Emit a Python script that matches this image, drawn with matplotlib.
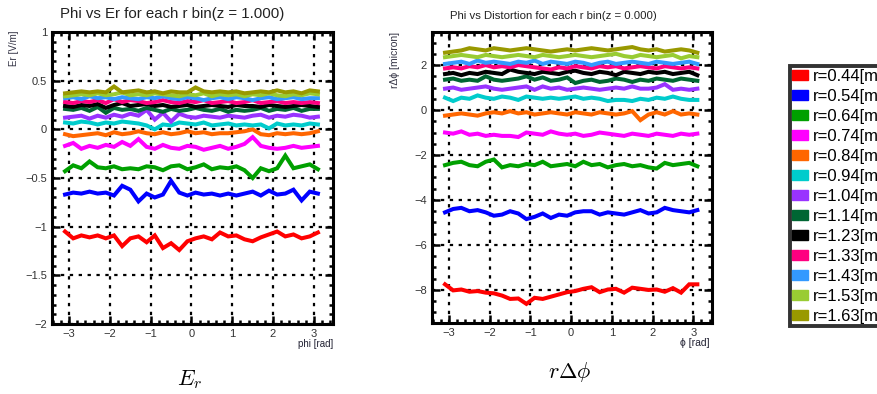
import numpy as np
import matplotlib
matplotlib.use("Agg")
import matplotlib.pyplot as plt
from matplotlib.patches import Patch
from matplotlib.ticker import MultipleLocator, FuncFormatter

plt.rcParams['font.family'] = ['Liberation Sans', 'DejaVu Sans']
plt.rcParams['mathtext.fontset'] = 'cm'

# DATA
phi = [-3.1, -2.9, -2.7, -2.5, -2.3, -2.1, -1.9, -1.7, -1.5, -1.3, -1.1, -0.9,
       -0.7, -0.5, -0.3, -0.1, 0.1, 0.3, 0.5, 0.7, 0.9, 1.1, 1.3, 1.5,
       1.7, 1.9, 2.1, 2.3, 2.5, 2.7, 2.9, 3.1]

r_labels = ['r=0.44[m]', 'r=0.54[m]', 'r=0.64[m]', 'r=0.74[m]', 'r=0.84[m]',
            'r=0.94[m]', 'r=1.04[m]', 'r=1.14[m]', 'r=1.23[m]', 'r=1.33[m]',
            'r=1.43[m]', 'r=1.53[m]', 'r=1.63[m]']
colors = ['#ff0000', '#0000ff', '#00a000', '#ff00ff', '#ff6600', '#00cccc',
          '#9933ff', '#006633', '#000000', '#ff0080', '#3399ff', '#99cc33',
          '#999900']

# Er vs phi, z = 1.000
er = [
    [-1.05, -1.12, -1.09, -1.11, -1.09, -1.12, -1.09, -1.20, -1.12, -1.10, -1.16, -1.09, -1.22, -1.17, -1.24, -1.15,
     -1.12, -1.10, -1.13, -1.06, -1.10, -1.09, -1.13, -1.15, -1.11, -1.08, -1.05, -1.10, -1.08, -1.12, -1.10, -1.06],
    [-0.67, -0.65, -0.66, -0.64, -0.66, -0.65, -0.68, -0.58, -0.62, -0.74, -0.66, -0.70, -0.67, -0.53, -0.65, -0.68,
     -0.65, -0.67, -0.66, -0.68, -0.66, -0.68, -0.66, -0.64, -0.68, -0.63, -0.67, -0.66, -0.62, -0.73, -0.64, -0.66],
    [-0.43, -0.37, -0.40, -0.33, -0.39, -0.40, -0.38, -0.41, -0.40, -0.41, -0.38, -0.39, -0.42, -0.38, -0.37, -0.41,
     -0.39, -0.36, -0.41, -0.39, -0.40, -0.38, -0.42, -0.50, -0.40, -0.43, -0.40, -0.27, -0.40, -0.38, -0.36, -0.41],
    [-0.17, -0.14, -0.20, -0.17, -0.19, -0.16, -0.18, -0.13, -0.17, -0.10, -0.18, -0.20, -0.16, -0.19, -0.20, -0.17,
     -0.18, -0.21, -0.19, -0.17, -0.20, -0.18, -0.15, -0.08, -0.17, -0.19, -0.20, -0.19, -0.17, -0.19, -0.18, -0.17],
    [-0.05, -0.07, -0.06, -0.05, -0.04, -0.06, -0.03, -0.05, -0.04, -0.02, -0.04, -0.05, -0.03, -0.05, -0.04, -0.02,
     -0.04, -0.03, -0.05, -0.04, -0.04, -0.03, -0.02, 0.00, -0.05, -0.06, -0.04, -0.05, -0.04, -0.05, -0.04, -0.02],
    [0.07, 0.06, 0.08, 0.07, 0.05, 0.07, 0.06, 0.08, 0.07, 0.06, 0.04, 0.00, 0.05, 0.04, 0.07, 0.06,
     0.05, 0.07, 0.04, 0.05, 0.06, 0.04, 0.05, 0.04, 0.05, 0.01, 0.06, 0.04, 0.05, 0.04, 0.06, 0.05],
    [0.12, 0.13, 0.14, 0.11, 0.14, 0.12, 0.15, 0.13, 0.16, 0.14, 0.20, 0.10, 0.17, 0.08, 0.16, 0.13,
     0.12, 0.14, 0.13, 0.12, 0.14, 0.13, 0.12, 0.14, 0.15, 0.12, 0.14, 0.13, 0.15, 0.14, 0.12, 0.13],
    [0.21, 0.20, 0.22, 0.19, 0.23, 0.17, 0.22, 0.20, 0.21, 0.19, 0.22, 0.20, 0.18, 0.21, 0.19, 0.20,
     0.22, 0.20, 0.19, 0.21, 0.18, 0.20, 0.19, 0.20, 0.22, 0.19, 0.21, 0.20, 0.22, 0.19, 0.21, 0.21],
    [0.24, 0.23, 0.25, 0.24, 0.26, 0.22, 0.25, 0.27, 0.24, 0.25, 0.26, 0.24, 0.25, 0.23, 0.24, 0.25,
     0.23, 0.24, 0.25, 0.24, 0.23, 0.25, 0.24, 0.24, 0.23, 0.25, 0.24, 0.23, 0.24, 0.25, 0.24, 0.23],
    [0.28, 0.27, 0.29, 0.28, 0.30, 0.27, 0.31, 0.28, 0.30, 0.29, 0.27, 0.28, 0.30, 0.28, 0.27, 0.29,
     0.28, 0.30, 0.27, 0.28, 0.29, 0.27, 0.28, 0.30, 0.27, 0.28, 0.29, 0.27, 0.28, 0.27, 0.28, 0.27],
    [0.32, 0.33, 0.31, 0.34, 0.32, 0.33, 0.31, 0.33, 0.32, 0.31, 0.33, 0.32, 0.34, 0.32, 0.31, 0.33,
     0.32, 0.30, 0.32, 0.33, 0.31, 0.33, 0.32, 0.30, 0.32, 0.33, 0.31, 0.32, 0.33, 0.31, 0.32, 0.32],
    [0.34, 0.35, 0.36, 0.35, 0.37, 0.35, 0.36, 0.38, 0.35, 0.36, 0.35, 0.37, 0.36, 0.35, 0.34, 0.36,
     0.35, 0.37, 0.34, 0.36, 0.35, 0.36, 0.34, 0.36, 0.35, 0.37, 0.35, 0.34, 0.36, 0.35, 0.37, 0.36],
    [0.37, 0.38, 0.39, 0.38, 0.39, 0.38, 0.44, 0.38, 0.39, 0.40, 0.38, 0.39, 0.37, 0.39, 0.38, 0.38,
     0.43, 0.39, 0.38, 0.39, 0.38, 0.39, 0.37, 0.38, 0.39, 0.38, 0.40, 0.38, 0.39, 0.37, 0.40, 0.39],
]

# r*dphi distortion vs phi, z = 0.000
dist = [
    [-7.75, -8.02, -7.98, -8.08, -8.05, -8.12, -8.15, -8.25, -8.40, -8.38, -8.62, -8.35, -8.40, -8.30, -8.20, -8.10,
     -8.05, -7.95, -7.88, -8.10, -7.98, -7.95, -8.12, -7.90, -7.95, -8.00, -7.98, -8.08, -7.92, -8.12, -7.75, -7.75],
    [-4.55, -4.40, -4.35, -4.50, -4.45, -4.55, -4.70, -4.65, -4.50, -4.60, -4.85, -4.75, -4.60, -4.80, -4.65, -4.70,
     -4.55, -4.50, -4.50, -4.65, -4.55, -4.60, -4.65, -4.55, -4.45, -4.60, -4.55, -4.35, -4.45, -4.50, -4.55, -4.45],
    [-2.45, -2.35, -2.30, -2.45, -2.50, -2.30, -2.20, -2.55, -2.45, -2.50, -2.40, -2.45, -2.30, -2.50, -2.45, -2.40,
     -2.50, -2.30, -2.45, -2.40, -2.55, -2.45, -2.40, -2.50, -2.45, -2.55, -2.60, -2.35, -2.45, -2.40, -2.35, -2.50],
    [-1.00, -1.05, -0.95, -1.10, -1.05, -1.15, -1.10, -1.15, -1.15, -1.20, -1.00, -1.05, -1.10, -0.95, -1.05, -1.10,
     -1.05, -1.15, -1.10, -1.00, -1.05, -1.10, -1.15, -1.05, -1.10, -1.15, -1.05, -1.10, -1.15, -1.05, -1.10, -1.05],
    [-0.25, -0.20, -0.15, -0.20, -0.25, -0.15, -0.10, -0.15, -0.05, -0.15, -0.10, -0.20, -0.15, -0.10, -0.15, -0.20,
     -0.10, -0.15, -0.20, -0.10, -0.15, -0.20, -0.15, -0.05, -0.45, -0.20, -0.10, -0.20, -0.05, -0.20, -0.15, -0.20],
    [0.55, 0.40, 0.55, 0.50, 0.65, 0.55, 0.50, 0.60, 0.55, 0.45, 0.60, 0.55, 0.50, 0.55, 0.50, 0.55,
     0.60, 0.50, 0.55, 0.50, 0.40, 0.45, 0.45, 0.40, 0.50, 0.45, 0.55, 0.50, 0.60, 0.50, 0.45, 0.45],
    [0.95, 1.00, 0.90, 0.95, 1.00, 1.05, 0.95, 0.90, 0.95, 1.00, 1.05, 0.90, 1.05, 0.95, 1.00, 0.90,
     0.95, 1.00, 0.95, 0.90, 0.95, 1.00, 0.95, 1.05, 0.95, 0.95, 1.00, 1.15, 0.90, 0.95, 0.90, 0.95],
    [1.35, 1.40, 1.30, 1.35, 1.30, 1.50, 1.35, 1.30, 1.35, 1.40, 1.50, 1.35, 1.45, 1.30, 1.35, 1.45,
     1.20, 1.30, 1.35, 1.25, 1.30, 1.40, 1.35, 1.25, 1.35, 1.30, 1.40, 1.35, 1.30, 1.40, 1.35, 1.30],
    [1.60, 1.65, 1.55, 1.65, 1.60, 1.70, 1.65, 1.60, 1.80, 1.70, 1.65, 1.60, 1.70, 1.65, 1.60, 1.70,
     1.75, 1.65, 1.60, 1.70, 1.65, 1.55, 1.70, 1.65, 1.60, 1.70, 1.65, 1.70, 1.60, 1.65, 1.70, 1.55],
    [1.85, 1.90, 1.85, 1.95, 1.90, 2.00, 1.90, 1.95, 1.90, 2.00, 1.95, 1.90, 1.85, 1.80, 1.90, 1.85,
     1.95, 1.90, 1.85, 1.95, 1.90, 1.95, 1.85, 1.90, 1.95, 1.90, 1.85, 1.95, 1.90, 1.85, 1.90, 1.85],
    [2.05, 2.10, 2.15, 2.05, 2.20, 2.10, 2.15, 2.10, 2.05, 2.15, 2.10, 2.20, 2.05, 2.15, 2.10, 2.05,
     2.15, 2.10, 2.00, 2.10, 2.15, 2.05, 2.10, 2.15, 2.10, 2.05, 2.15, 2.10, 2.05, 2.10, 2.15, 2.05],
    [2.35, 2.40, 2.45, 2.40, 2.35, 2.45, 2.40, 2.35, 2.40, 2.45, 2.40, 2.35, 2.45, 2.40, 2.35, 2.40,
     2.45, 2.40, 2.35, 2.40, 2.45, 2.50, 2.40, 2.35, 2.45, 2.40, 2.35, 2.40, 2.45, 2.30, 2.40, 2.35],
    [2.55, 2.60, 2.65, 2.75, 2.70, 2.65, 2.75, 2.70, 2.65, 2.70, 2.75, 2.70, 2.65, 2.60, 2.65, 2.70,
     2.65, 2.70, 2.75, 2.70, 2.65, 2.70, 2.75, 2.80, 2.70, 2.65, 2.70, 2.60, 2.65, 2.70, 2.65, 2.55],
]

W, H = 878, 394
fig = plt.figure(figsize=(W / 100, H / 100), dpi=100)

# ROOT-like tick labels: 0.5 -> "0.5", 1.0 -> "1", negatives with a real minus sign
fmt = FuncFormatter(lambda v, pos: ('%g' % v).replace('-', '\u2212'))

def root_style(ax, ymajor, yminor):
    for s in ax.spines.values():
        s.set_linewidth(2.2)
    ax.xaxis.set_major_locator(MultipleLocator(1))
    ax.xaxis.set_minor_locator(MultipleLocator(0.2))
    ax.yaxis.set_major_locator(MultipleLocator(ymajor))
    ax.yaxis.set_minor_locator(MultipleLocator(yminor))
    ax.xaxis.set_major_formatter(fmt)
    ax.yaxis.set_major_formatter(fmt)
    ax.tick_params(which='both', direction='in', top=True, right=True,
                   labelsize=8, labelcolor='#333333', width=1.8)
    ax.tick_params(which='major', length=6)
    ax.tick_params(which='minor', length=3)
    ax.grid(True, which='major', color='black', linestyle=(0, (1.5, 2.5)), linewidth=1.6)
    ax.set_axisbelow(True)

# left panel
ax1 = fig.add_axes([52 / W, 1 - 324 / H, 281 / W, 292 / H])
for ys, c in zip(er, colors):
    ax1.plot(phi, ys, color=c, lw=2.9, solid_joinstyle='miter')
ax1.set_xlim(-3.42, 3.47)
ax1.set_ylim(-2, 1)
root_style(ax1, 0.5, 0.1)
fig.text(172 / W, 1 - 14 / H, 'Phi vs Er for each r bin(z = 1.000)', ha='center', va='center',
         fontsize=10.8, color='#222222')
fig.text(14 / W, 1 - 30 / H, 'Er [V/m]', rotation=90, ha='center', va='top', fontsize=7,
         color='#333344')
fig.text(333 / W, 1 - 344 / H, 'phi [rad]', ha='right', va='center', fontsize=7, color='#222233')
fig.text(190 / W, 1 - 380 / H, '$E_r$', ha='center', va='center', fontsize=16)

# right panel
ax2 = fig.add_axes([432 / W, 1 - 323 / H, 280 / W, 291 / H])
for ys, c in zip(dist, colors):
    ax2.plot(phi, ys, color=c, lw=2.9, solid_joinstyle='miter')
ax2.set_xlim(-3.42, 3.46)
ax2.set_ylim(-9.47, 3.47)
root_style(ax2, 2, 0.5)
fig.text(553 / W, 1 - 16 / H, 'Phi vs Distortion for each r bin(z = 0.000)', ha='center',
         va='center', fontsize=8.2, color='#222222')
fig.text(395 / W, 1 - 32 / H, 'r\u0394\u03d5 [micron]', rotation=90, ha='center', va='top',
         fontsize=7.5, color='#333344')
fig.text(710 / W, 1 - 343 / H, '\u03d5 [rad]', ha='right', va='center', fontsize=7.5, color='#222233')
fig.text(570 / W, 1 - 372 / H, r'$r\Delta\phi$', ha='center', va='center', fontsize=16)

# legend (its right side runs past the image edge, as in the original)
handles = [Patch(facecolor=c, edgecolor=c) for c in colors]
leg = fig.legend(handles, r_labels, loc='upper left', bbox_to_anchor=(790 / W, 1 - 66 / H),
                 fontsize=12, frameon=True, fancybox=False, borderpad=0.15,
                 labelspacing=0.3, handlelength=0.95, handleheight=0.55, handletextpad=0.25,
                 borderaxespad=0)
leg.get_frame().set_edgecolor('black')
leg.get_frame().set_linewidth(2.8)

fig.savefig('out.png', dpi=100)
